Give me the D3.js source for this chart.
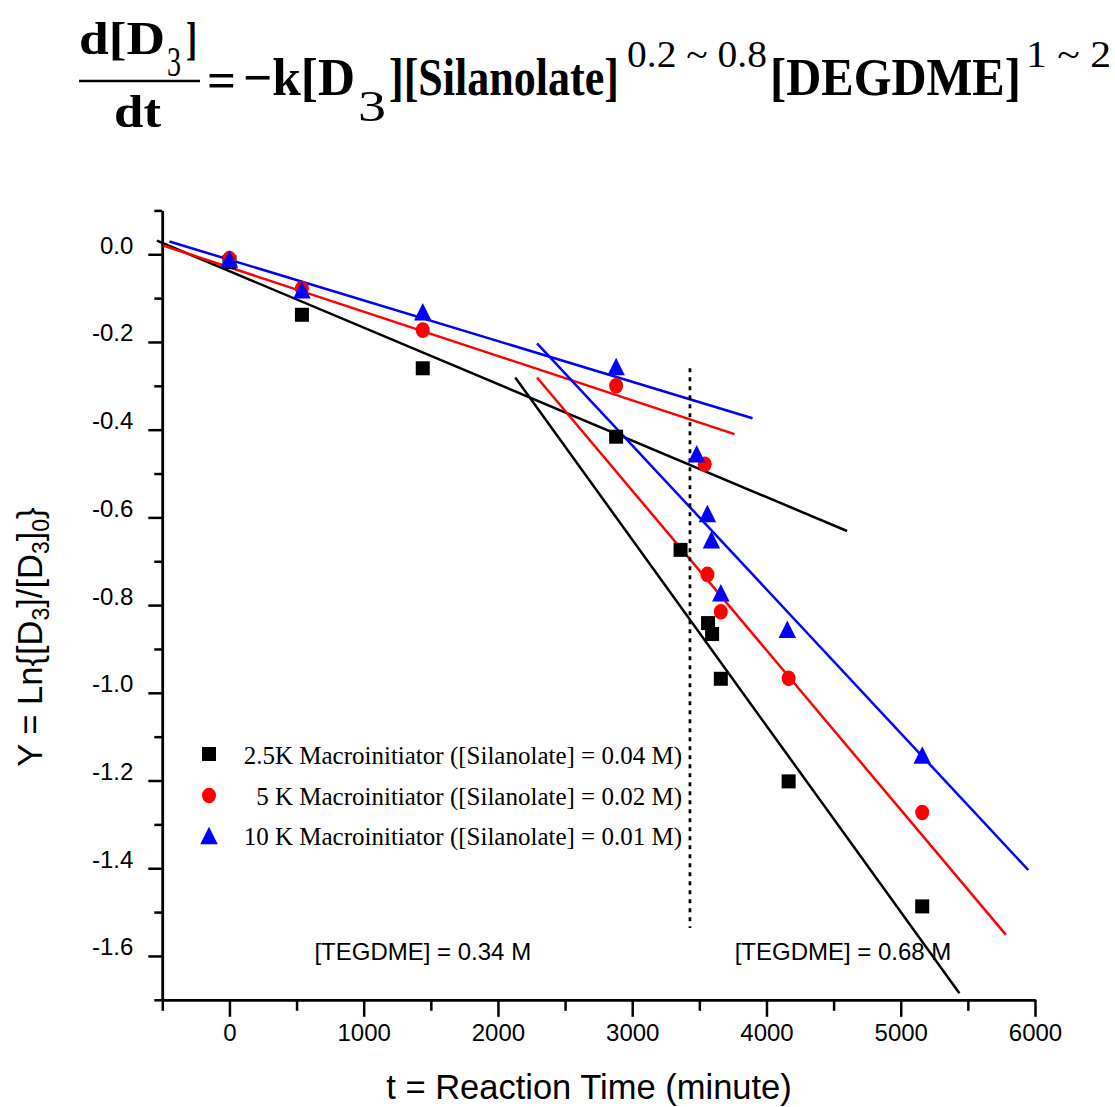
<!DOCTYPE html>
<html>
<head>
<meta charset="utf-8">
<script src="https://cdn.jsdelivr.net/npm/d3@7"></script>
<style>
  body { margin: 0; background: #fff; }
  svg { display: block; }
</style>
</head>
<body>
<svg id="chart" width="1115" height="1107"></svg>
<script>
// ---- data: ln([D3]/[D3]0) versus reaction time (minutes) ----
const timeBlack = [0, 540, 1440, 2880, 3360, 3565, 3595, 3660, 4165, 5160];
const lnBlack   = [-0.018, -0.138, -0.260, -0.416, -0.674, -0.841, -0.866, -0.968, -1.202, -1.487];

const timeRed = [0, 540, 1440, 2880, 3540, 3560, 3660, 4165, 5160];
const lnRed   = [-0.010, -0.078, -0.173, -0.300, -0.479, -0.730, -0.815, -0.967, -1.273];

const timeBlue = [0, 540, 1440, 2880, 3480, 3560, 3590, 3660, 4155, 5160];
const lnBlue   = [-0.011, -0.081, -0.131, -0.256, -0.455, -0.591, -0.651, -0.772, -0.855, -1.142];

// linear fits: [start, end] in time and in Y for each regime
const fitBlackEarlyT = [-540, 4600], fitBlackEarlyY = [0.031, -0.631];
const fitRedEarlyT   = [-494, 3762], fitRedEarlyY   = [0.020, -0.410];
const fitBlueEarlyT  = [-447, 3896], fitBlueEarlyY  = [0.029, -0.374];
const fitBlackLateT  = [2129, 5437], fitBlackLateY  = [-0.281, -1.685];
const fitRedLateT    = [2291, 5784], fitRedLateY    = [-0.281, -1.552];
const fitBlueLateT   = [2291, 5950], fitBlueLateY   = [-0.203, -1.404];

// boundary between the two TEGDME concentrations
const boundaryT = [3430, 3430], boundaryY = [-0.26, -1.536];

const seriesNames = [
  "2.5K Macroinitiator ([Silanolate] = 0.04 M)",
  "5 K Macroinitiator ([Silanolate] = 0.02 M)",
  "10 K Macroinitiator ([Silanolate] = 0.01 M)"
];
const seriesColors = ["#000000", "#ff0000", "#0000ff"];

const regionLabels = ["[TEGDME] = 0.34 M", "[TEGDME] = 0.68 M"];
const regionLabelT = [1440, 4570];
const regionLabelY = [-1.61, -1.61];

const xMajorTicks = [0, 1000, 2000, 3000, 4000, 5000, 6000];
const xMinorTicks = [-500, 500, 1500, 2500, 3500, 4500, 5500];
const yMajorTicks = [0, -0.2, -0.4, -0.6, -0.8, -1.0, -1.2, -1.4, -1.6];
const yMinorTicks = [0.1, -0.1, -0.3, -0.5, -0.7, -0.9, -1.1, -1.3, -1.5, -1.7];

// ---- drawing ----
const svg = d3.select("#chart");
const sans = "'Liberation Sans', Arial, sans-serif";
const serif = "'Liberation Serif', 'Times New Roman', serif";

const x = d3.scaleLinear().domain([-500, 6000]).range([162.3, 1035]);
const y = d3.scaleLinear().domain([-1.7, 0.1]).range([999.8, 210.4]);

// rate-law heading, set in a narrow (horizontally compressed) serif
(function drawEquation() {
  const pieces = [
    { t: "d[D", x: 79, y: 54, s: 46, w: 86, b: true },
    { t: "3", x: 167, y: 76, s: 42, w: 14, b: false },
    { t: "]", x: 186, y: 54, s: 46, w: 11, b: true },
    { t: "dt", x: 114, y: 127, s: 46, w: 47, b: true },
    { t: "=", x: 207, y: 97, s: 50, w: 29, b: true },
    { t: "\u2212k[D", x: 243, y: 95, s: 52, w: 112, b: true },
    { t: "3", x: 358, y: 121, s: 44, w: 28, b: false },
    { t: "][Silanolate]", x: 389, y: 95, s: 52, w: 230, b: true },
    { t: "0.2 ~ 0.8", x: 627, y: 67, s: 38, w: 140, b: false },
    { t: "[DEGDME]", x: 770, y: 95, s: 52, w: 251, b: true },
    { t: "1 ~ 2", x: 1026, y: 67, s: 38, w: 85, b: false }
  ];
  const g = svg.append("g").attr("class", "equation");
  g.selectAll("text").data(pieces).join("text")
    .attr("font-family", serif)
    .attr("font-size", d => d.s)
    .attr("font-weight", d => d.b ? "bold" : "normal")
    .text(d => d.t)
    .each(function (d) {
      const natural = this.getComputedTextLength();
      const sx = natural > 0 ? d.w / natural : 1;
      d3.select(this).attr("transform", `translate(${d.x},${d.y}) scale(${sx},1)`);
    });
  g.append("line").attr("x1", 79).attr("x2", 200).attr("y1", 81).attr("y2", 81)
    .attr("stroke", "#000").attr("stroke-width", 2.5);
})();

// axes
const axisStroke = 2.5;
function styleAxis(g) {
  g.selectAll("path.domain").attr("stroke", "#000").attr("stroke-width", axisStroke);
  g.selectAll(".tick line").attr("stroke", "#000").attr("stroke-width", axisStroke);
  g.selectAll(".tick text").attr("fill", "#000").attr("font-family", sans).attr("font-size", 24);
}

const xAxisY = y(-1.7);
const yAxisX = x(-500);

svg.append("g").attr("transform", `translate(0,${xAxisY})`)
  .call(d3.axisBottom(x).tickValues(xMinorTicks).tickSize(11).tickSizeOuter(0).tickFormat(""))
  .call(styleAxis);
const gx = svg.append("g").attr("transform", `translate(0,${xAxisY})`)
  .call(d3.axisBottom(x).tickValues(xMajorTicks).tickSize(17).tickSizeOuter(0).tickFormat(d => String(d)))
  .call(styleAxis);
gx.selectAll(".tick text").attr("y", 41).attr("dy", 0);

svg.append("g").attr("transform", `translate(${yAxisX},0)`)
  .call(d3.axisLeft(y).tickValues(yMinorTicks).tickSize(8).tickSizeOuter(0).tickFormat(""))
  .call(styleAxis);
const gy = svg.append("g").attr("transform", `translate(${yAxisX},0)`)
  .call(d3.axisLeft(y).tickValues(yMajorTicks).tickSize(14).tickSizeOuter(0).tickFormat(d => d.toFixed(1)))
  .call(styleAxis);
gy.selectAll(".tick text").attr("x", -29).attr("dy", 0).attr("y", -1);

// axis titles
svg.append("text")
  .attr("x", 589).attr("y", 1099)
  .attr("text-anchor", "middle")
  .attr("font-family", sans).attr("font-size", 34.5)
  .text("t = Reaction Time (minute)");

const yTitle = svg.append("text")
  .attr("transform", "translate(42,637) rotate(-90)")
  .attr("text-anchor", "middle")
  .attr("font-family", sans).attr("font-size", 34.5);
yTitle.append("tspan").text("Y = Ln{[D");
yTitle.append("tspan").attr("font-size", 23).attr("dy", 7).text("3");
yTitle.append("tspan").attr("dy", -7).text("]/[D");
yTitle.append("tspan").attr("font-size", 23).attr("dy", 7).text("3");
yTitle.append("tspan").attr("dy", -7).text("]");
yTitle.append("tspan").attr("font-size", 23).attr("dy", 7).text("0");
yTitle.append("tspan").attr("dy", -7).text("}");

// fitted lines
const fits = [
  { t: fitBlackEarlyT, v: fitBlackEarlyY, c: seriesColors[0] },
  { t: fitRedEarlyT,   v: fitRedEarlyY,   c: seriesColors[1] },
  { t: fitBlueEarlyT,  v: fitBlueEarlyY,  c: seriesColors[2] },
  { t: fitBlackLateT,  v: fitBlackLateY,  c: seriesColors[0] },
  { t: fitRedLateT,    v: fitRedLateY,    c: seriesColors[1] },
  { t: fitBlueLateT,   v: fitBlueLateY,   c: seriesColors[2] }
];
svg.append("g").selectAll("line").data(fits).join("line")
  .attr("x1", d => x(d.t[0])).attr("y1", d => y(d.v[0]))
  .attr("x2", d => x(d.t[1])).attr("y2", d => y(d.v[1]))
  .attr("stroke", d => d.c).attr("stroke-width", 2.5);

// dotted boundary
svg.append("line")
  .attr("x1", x(boundaryT[0])).attr("y1", y(boundaryY[0]))
  .attr("x2", x(boundaryT[1])).attr("y2", y(boundaryY[1]))
  .attr("stroke", "#000").attr("stroke-width", 2.7)
  .attr("stroke-dasharray", "4,5");

// region labels
svg.append("g").selectAll("text").data(regionLabels).join("text")
  .attr("x", (d, i) => x(regionLabelT[i]))
  .attr("y", (d, i) => y(regionLabelY[i]))
  .attr("text-anchor", "middle")
  .attr("font-family", sans).attr("font-size", 24)
  .text(d => d);

// marker shapes
const SQ = 14;
function drawSquare(sel, cx, cy, color) {
  sel.append("rect").attr("x", cx - SQ / 2).attr("y", cy - SQ / 2)
    .attr("width", SQ).attr("height", SQ).attr("fill", color);
}
function drawCircle(sel, cx, cy, color) {
  sel.append("ellipse").attr("cx", cx).attr("cy", cy).attr("rx", 7).attr("ry", 7.8).attr("fill", color);
}
function drawTriangle(sel, cx, cy, color) {
  const w = 17.5, h = 17.5;
  sel.append("path")
    .attr("d", `M${cx},${cy - h / 2}L${cx + w / 2},${cy + h / 2}L${cx - w / 2},${cy + h / 2}Z`)
    .attr("fill", color);
}

const markers = svg.append("g");
timeBlack.forEach((t, i) => drawSquare(markers, x(t), y(lnBlack[i]), seriesColors[0]));
timeRed.forEach((t, i) => drawCircle(markers, x(t), y(lnRed[i]), seriesColors[1]));
timeBlue.forEach((t, i) => drawTriangle(markers, x(t), y(lnBlue[i]), seriesColors[2]));

// legend
const legend = svg.append("g");
const legendRows = [754, 795.5, 835.5];
const drawers = [drawSquare, drawCircle, drawTriangle];
seriesNames.forEach((name, i) => {
  drawers[i](legend, 209, legendRows[i], seriesColors[i]);
  legend.append("text")
    .attr("x", 682).attr("y", legendRows[i] + 9.5)
    .attr("text-anchor", "end")
    .attr("font-family", serif).attr("font-size", 25)
    .text(name);
});
</script>
</body>
</html>
